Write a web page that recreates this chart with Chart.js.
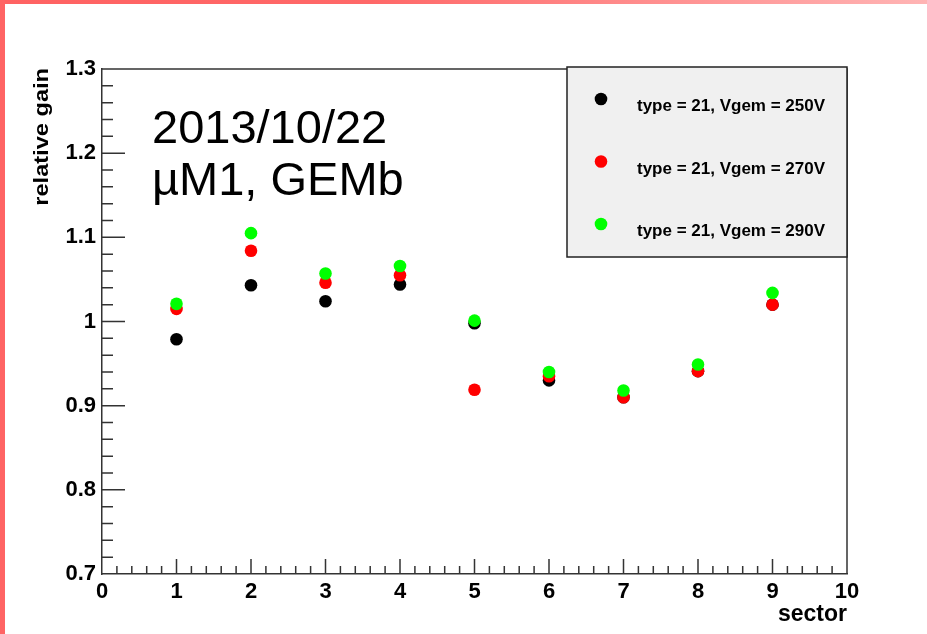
<!DOCTYPE html>
<html>
<head>
<meta charset="utf-8">
<script src="https://cdn.jsdelivr.net/npm/chart.js@4.4.0/dist/chart.umd.min.js"></script>
<style>
  html, body { margin: 0; padding: 0; background: #fff; }
  body { width: 927px; height: 634px; position: relative; overflow: hidden; }
  .bar_top { position: absolute; left: 0; top: 0; width: 927px; height: 4px;
    background: linear-gradient(to right, #ff6262 0%, #ff6868 40%, #ffb4b4 100%); }
  .bar_left { position: absolute; left: 0; top: 0; width: 5px; height: 634px; background: #ff6464; }
  #myChart { position: absolute; left: 0; top: 0; }
</style>
</head>
<body>
<canvas id="myChart" width="927" height="634"></canvas>
<div class="bar_top"></div>
<div class="bar_left"></div>
<script>
// relative gain per sector, one list per GEM voltage
const sectors = [1, 2, 3, 4, 5, 6, 7, 8, 9]
const gain_250 = [0.979, 1.043, 1.024, 1.044, 0.998, 0.930, 0.910, 0.941, 1.020]
const gain_270 = [1.015, 1.084, 1.046, 1.055, 0.919, 0.935, 0.910, 0.941, 1.020]
const gain_290 = [1.021, 1.105, 1.057, 1.066, 1.001, 0.940, 0.918, 0.949, 1.034]
const series_names = ['type = 21, Vgem = 250V', 'type = 21, Vgem = 270V', 'type = 21, Vgem = 290V']
const series_colors = ['#000000', '#ff0000', '#00ff00']
const note_lines = ['2013/10/22', 'µM1, GEMb']
const y_title = 'relative gain'

const FONT = "'Liberation Sans', Arial, Helvetica, sans-serif"

const isMajor = (v, step) => Math.abs(v / step - Math.round(v / step)) < 1e-6

let gains = [gain_250, gain_270, gain_290]
let datasets = gains.map((g, k) => ({
    label: series_names[k],
    data: sectors.map((s, i) => ({x: s, y: g[i]})),
    backgroundColor: series_colors[k],
    borderColor: series_colors[k],
    borderWidth: 0,
    pointRadius: 6.3,
    pointHoverRadius: 6.3,
    order: 3 - k
}))

// ROOT-like frame: ticks pointing inwards, plain top/right edges
const rootFrame = {
    id: 'rootFrame',
    beforeDatasetsDraw(chart) {
        const {ctx, chartArea: a, scales: {x, y}} = chart
        ctx.save()
        ctx.strokeStyle = '#333'
        ctx.lineWidth = 1.5
        ctx.beginPath()
        ctx.moveTo(a.left, a.top)
        ctx.lineTo(a.right, a.top)
        ctx.lineTo(a.right, a.bottom)
        for (const t of x.ticks) {
            let px = x.getPixelForValue(t.value)
            if (px <= a.left + 1 || px >= a.right - 1) continue
            let len = isMajor(t.value, 1) ? 15 : 8
            ctx.moveTo(px, a.bottom)
            ctx.lineTo(px, a.bottom - len)
        }
        for (const t of y.ticks) {
            let py = y.getPixelForValue(t.value)
            if (py >= a.bottom - 1) continue
            let len = isMajor(t.value, 0.1) ? 23 : 11
            ctx.moveTo(a.left, py)
            ctx.lineTo(a.left + len, py)
        }
        ctx.stroke()
        ctx.restore()
    },
    afterDraw(chart) {
        const {ctx, chartArea: a} = chart
        ctx.save()
        // y axis title, right-aligned to the top of the axis, slightly wide like ROOT's font
        ctx.save()
        ctx.translate(42, a.top - 1)
        ctx.rotate(-Math.PI / 2)
        ctx.scale(1.18, 1)
        ctx.font = `bold 20px ${FONT}`
        ctx.textAlign = 'right'
        ctx.textBaseline = 'middle'
        ctx.fillStyle = '#000'
        ctx.fillText(y_title, 0, 0)
        ctx.restore()

        // legend box in the upper right corner
        let bw = 280, bh = 190
        let bx = a.right - bw, by = a.top - 2
        ctx.fillStyle = '#f0f0f0'
        ctx.fillRect(bx, by, bw, bh)
        ctx.strokeStyle = '#222'
        ctx.lineWidth = 1.5
        ctx.strokeRect(bx, by, bw, bh)
        ctx.font = `bold 17px ${FONT}`
        ctx.textBaseline = 'middle'
        chart.data.datasets.forEach((ds, i) => {
            let my = by + 32 + i * 62.5
            ctx.fillStyle = ds.backgroundColor
            ctx.beginPath()
            ctx.arc(bx + 34, my, 6.3, 0, Math.PI * 2)
            ctx.fill()
            ctx.fillStyle = '#000'
            ctx.fillText(ds.label, bx + 70, my + 7.5)
        })
        // date / detector note
        ctx.font = `47px ${FONT}`
        ctx.textBaseline = 'alphabetic'
        ctx.fillStyle = '#000'
        note_lines.forEach((s, i) => ctx.fillText(s, a.left + 50, 143 + i * 52))
        ctx.restore()
    }
}

const config = {
    type: 'scatter',
    data: {datasets},
    options: {
        responsive: false,
        animation: false,
        events: [],
        layout: {padding: {left: 0, top: 69, right: 80, bottom: 0}},
        plugins: {legend: {display: false}, tooltip: {enabled: false}},
        scales: {
            x: {
                type: 'linear',
                min: 0, max: 10,
                afterFit: s => { s.height = 60 },
                grid: {display: false, drawTicks: false},
                border: {display: true, color: '#333', width: 1.5},
                ticks: {
                    stepSize: 0.2,
                    autoSkip: false,
                    maxRotation: 0,
                    padding: 5,
                    color: '#000',
                    font: {family: FONT, size: 22, weight: 'bold'},
                    callback: v => isMajor(v, 1) ? String(Math.round(v)) : ''
                },
                title: {
                    display: true,
                    text: 'sector',
                    align: 'end',
                    color: '#000',
                    font: {family: FONT, size: 23, weight: 'bold'},
                    padding: {top: 0, bottom: 6}
                }
            },
            y: {
                type: 'linear',
                min: 0.7, max: 1.3,
                afterFit: s => { s.width = 102 },
                grid: {display: false, drawTicks: false},
                border: {display: true, color: '#333', width: 1.5},
                ticks: {
                    stepSize: 0.02,
                    autoSkip: false,
                    padding: 6,
                    color: '#000',
                    font: {family: FONT, size: 22, weight: 'bold'},
                    callback: v => isMajor(v, 0.1) ? String(Math.round(v * 10) / 10) : ''
                }
            }
        }
    },
    plugins: [rootFrame]
}

var myChart = new Chart(document.getElementById('myChart'), config)
</script>
</body>
</html>
